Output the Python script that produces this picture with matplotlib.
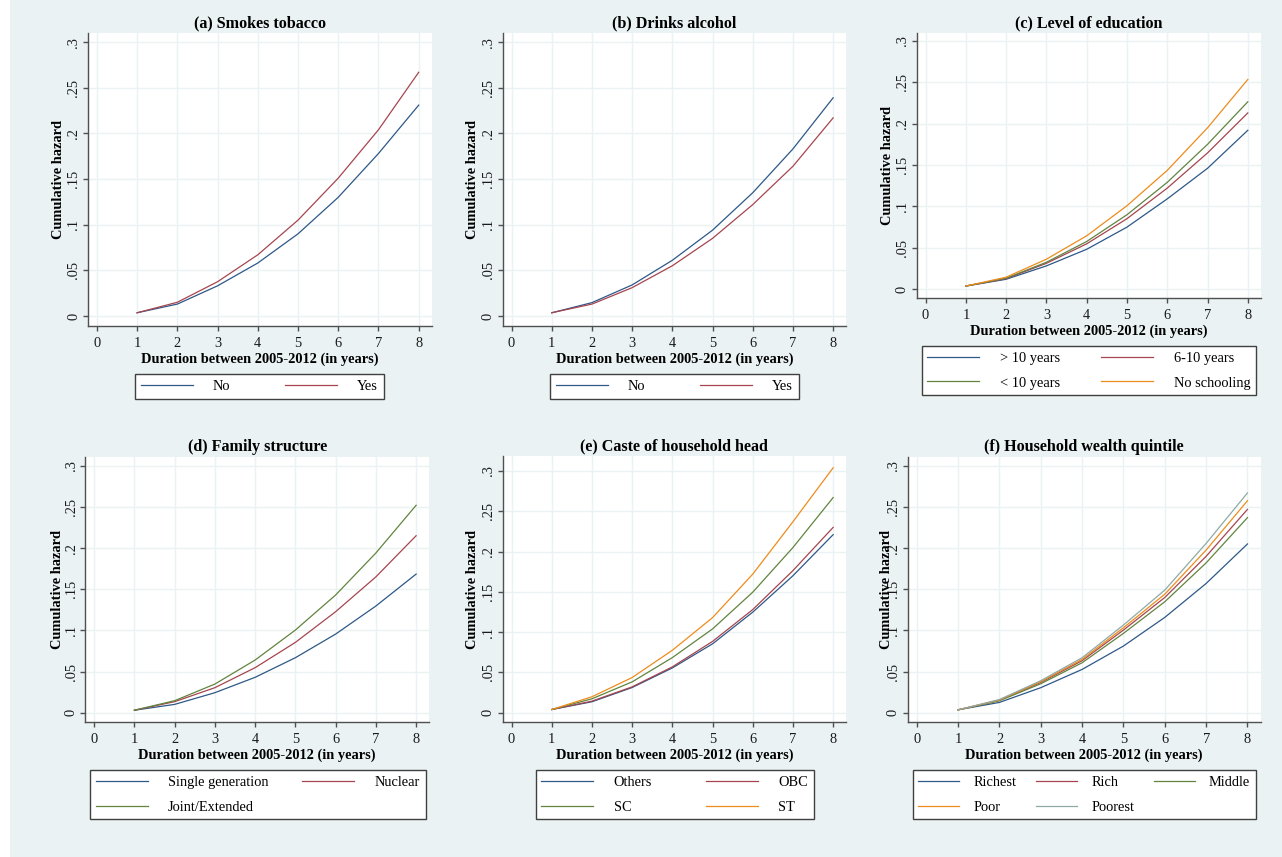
import matplotlib
matplotlib.use('Agg')
import matplotlib.pyplot as plt
from matplotlib.patches import Rectangle

plt.rcParams['font.family'] = ['Liberation Serif', 'DejaVu Serif']

W, H = 1282, 857  # output size in pixels (dpi 100)

# ---- data (cumulative hazard at each year) ----
DURATION = [1, 2, 3, 4, 5, 6, 7, 8]

TOBACCO_LABELS = ['No', 'Yes']
TOBACCO_NO = [0.0035, 0.013, 0.033, 0.058, 0.090, 0.130, 0.178, 0.231]
TOBACCO_YES = [0.0035, 0.015, 0.0375, 0.067, 0.105, 0.151, 0.204, 0.267]

ALCOHOL_LABELS = ['No', 'Yes']
ALCOHOL_NO = [0.0035, 0.0146, 0.034, 0.061, 0.094, 0.135, 0.183, 0.239]
ALCOHOL_YES = [0.0035, 0.013, 0.031, 0.055, 0.085, 0.122, 0.164, 0.217]

EDU_LABELS = ['> 10 years', '6-10 years', '< 10 years', 'No schooling']
EDU_ABOVE10 = [0.0035, 0.0117, 0.0279, 0.048, 0.0748, 0.109, 0.146, 0.192]
EDU_6TO10 = [0.0035, 0.0125, 0.031, 0.0546, 0.085, 0.122, 0.1646, 0.213]
EDU_BELOW10 = [0.0035, 0.013, 0.0323, 0.0574, 0.0898, 0.129, 0.175, 0.2265]
EDU_NONE = [0.0035, 0.0142, 0.036, 0.0643, 0.1007, 0.1435, 0.195, 0.2535]

FAMILY_LABELS = ['Single generation', 'Nuclear', 'Joint/Extended']
FAM_SINGLE = [0.003, 0.0101, 0.0243, 0.043, 0.0668, 0.0955, 0.1296, 0.1684]
FAM_NUCLEAR = [0.003, 0.0134, 0.0304, 0.0547, 0.0854, 0.1227, 0.165, 0.215]
FAM_JOINT = [0.003, 0.0146, 0.0348, 0.064, 0.1004, 0.143, 0.194, 0.252]

CASTE_LABELS = ['Others', 'OBC', 'SC', 'ST']
CASTE_OTHERS = [0.004, 0.0136, 0.0313, 0.0556, 0.0855, 0.1248, 0.170, 0.221]
CASTE_OBC = [0.004, 0.0144, 0.0321, 0.0569, 0.0885, 0.128, 0.1764, 0.230]
CASTE_SC = [0.004, 0.0173, 0.0383, 0.0684, 0.104, 0.1496, 0.205, 0.267]
CASTE_ST = [0.004, 0.0198, 0.0437, 0.0775, 0.118, 0.172, 0.237, 0.304]

WEALTH_LABELS = ['Richest', 'Rich', 'Middle', 'Poor', 'Poorest']
W_RICHEST = [0.0035, 0.0125, 0.0304, 0.0526, 0.081, 0.1158, 0.157, 0.205]
W_RICH = [0.0035, 0.015, 0.0368, 0.0632, 0.1004, 0.140, 0.190, 0.247]
W_MIDDLE = [0.0035, 0.0145, 0.0352, 0.0607, 0.0964, 0.1348, 0.182, 0.237]
W_POOR = [0.0035, 0.0155, 0.0377, 0.0648, 0.1032, 0.144, 0.1976, 0.2575]
W_POOREST = [0.0035, 0.016, 0.0389, 0.0668, 0.1065, 0.149, 0.2057, 0.267]

X_TICKS = [0, 1, 2, 3, 4, 5, 6, 7, 8]
Y_TICKS = [0, 0.05, 0.1, 0.15, 0.2, 0.25, 0.3]
Y_TICK_LABELS = ['0', '.05', '.1', '.15', '.2', '.25', '.3']

# Stata s2color-like palette (p1..p5)
COLORS = ['#2e5888', '#a6454f', '#62843f', '#ee8c1c', '#8eaaa6']
BG = '#eaf2f3'
AXIS_GRAY = '#505050'

# (title, labels, series, axes px [l, t, r, b], ylim,
#  legend px [x0, x1, top], ncol, ylabel offset px, legend key length / text pad)
PANELS = [
    ('(a) Smokes tobacco', TOBACCO_LABELS, [TOBACCO_NO, TOBACCO_YES],
     (88, 33, 431.6, 326), (-0.011, 0.31), (135, 384, 374), 2, 29, (3.6, 1.4)),
    ('(b) Drinks alcohol', ALCOHOL_LABELS, [ALCOHOL_NO, ALCOHOL_YES],
     (502.7, 33, 846, 326), (-0.011, 0.31), (550, 799, 374), 2, 30, (3.6, 1.4)),
    ('(c) Level of education', EDU_LABELS, [EDU_ABOVE10, EDU_6TO10, EDU_BELOW10, EDU_NONE],
     (916.7, 32.7, 1260.7, 297.7), (-0.0106, 0.3101), (921.7, 1256, 346), 2, 29, (3.6, 1.4)),
    ('(d) Family structure', FAMILY_LABELS, [FAM_SINGLE, FAM_NUCLEAR, FAM_JOINT],
     (85.3, 456.7, 429, 722), (-0.0113, 0.311), (90, 425.7, 770), 2, 28, (3.6, 1.4)),
    ('(e) Caste of household head', CASTE_LABELS, [CASTE_OTHERS, CASTE_OBC, CASTE_SC, CASTE_ST],
     (502.7, 456, 846, 722), (-0.0115, 0.3186), (535.7, 814, 770), 2, 30, (3.6, 1.4)),
    ('(f) Household wealth quintile', WEALTH_LABELS,
     [W_RICHEST, W_RICH, W_MIDDLE, W_POOR, W_POOREST],
     (907.7, 456.7, 1260.7, 722), (-0.0113, 0.311), (912.7, 1256, 770), 3, 21.5, (2.8, 1.0)),
]


def draw_panel(fig, title, labels, series, rect, ylim, leg_rect, ncol, ylab_off, keys):
    l, t, r, b = rect
    ax = fig.add_axes([l / W, 1 - b / H, (r - l) / W, (b - t) / H])
    ax.set_facecolor('white')
    for vals, lab, col in zip(series, labels, COLORS):
        ax.plot(DURATION, vals, color=col, lw=0.9, label=lab, zorder=3)

    ax.set_xlim(-0.22, 8.32)
    ax.set_ylim(*ylim)
    ax.set_xticks(X_TICKS)
    ax.set_yticks(Y_TICKS)
    ax.set_yticklabels(Y_TICK_LABELS, rotation=90, va='center')
    ax.grid(True, color=BG, lw=1.0, zorder=0)
    ax.set_axisbelow(True)

    for side in ('top', 'right'):
        ax.spines[side].set_visible(False)
    for side in ('left', 'bottom'):
        ax.spines[side].set_color(AXIS_GRAY)
        ax.spines[side].set_linewidth(1.0)
    ax.tick_params(direction='out', length=3.6, width=1.0, color=AXIS_GRAY,
                   labelsize=10.4, labelcolor='#1a1a1a')
    ax.tick_params(axis='x', pad=4.5)
    ax.tick_params(axis='y', pad=2.0)

    ax.set_title(title, fontsize=11.6, fontweight='bold', pad=4)
    ax.set_xlabel('Duration between 2005-2012 (in years)', fontsize=10.4,
                  fontweight='bold', labelpad=1.5)
    ax.set_ylabel('Cumulative hazard', fontsize=10.4, fontweight='bold', va='center')
    ax.yaxis.set_label_coords(-ylab_off / (r - l), 0.5)

    # legend, row-major like Stata
    handles, labs = ax.get_legend_handles_labels()
    n = len(handles)
    nrows = -(-n // ncol)
    order = [rr * ncol + c for c in range(ncol) for rr in range(nrows) if rr * ncol + c < n]
    x0, x1, ltop = leg_rect
    key_len, key_pad = keys
    leg = fig.legend([handles[i] for i in order], [labs[i] for i in order],
                     loc='upper left', bbox_to_anchor=(x0 / W, 1 - ltop / H, (x1 - x0) / W, 0),
                     bbox_transform=fig.transFigure, mode='expand', ncol=ncol,
                     borderaxespad=0, frameon=True, fancybox=False, edgecolor='#404040',
                     framealpha=1, facecolor='white', fontsize=10.4, handlelength=key_len,
                     handletextpad=key_pad, borderpad=0.4, labelspacing=0.8)
    leg.get_frame().set_linewidth(1.0)
    return ax


def main():
    fig = plt.figure(figsize=(W / 100, H / 100), dpi=100, facecolor='white')
    fig.add_artist(Rectangle((10 / W, 0), 1 - 10 / W, 1, transform=fig.transFigure,
                             facecolor=BG, edgecolor='none', zorder=-5))
    for p in PANELS:
        draw_panel(fig, *p)
    fig.savefig('out.png', dpi=100, facecolor=fig.get_facecolor())


if __name__ == '__main__':
    main()
